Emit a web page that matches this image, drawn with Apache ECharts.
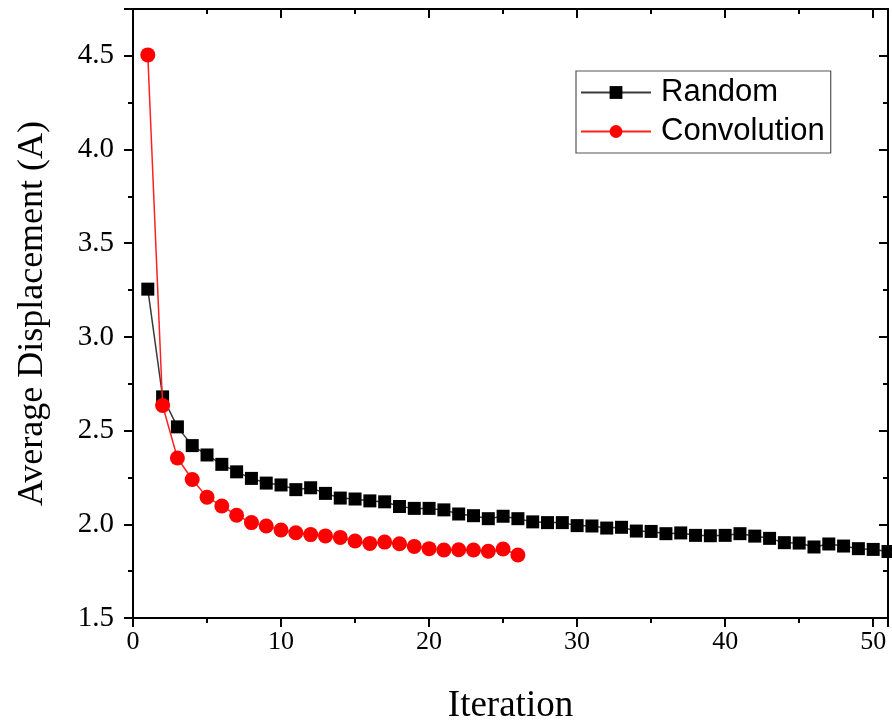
<!DOCTYPE html>
<html style="height: 100%">
<head>
    <meta charset="UTF-8" />
    <title>Average Displacement</title>
    <script src="https://cdn.jsdelivr.net/npm/echarts@6.0.0/dist/echarts.min.js"></script>
</head>
<body style="height: 100%; margin: 0; background: #fff">
    <div id="main" style="width: 892px; height: 727px"></div>
    <script type="text/javascript">
        // values
        var randomIter = [1, 2, 3, 4, 5, 6, 7, 8, 9, 10, 11, 12, 13, 14, 15, 16, 17,
            18, 19, 20, 21, 22, 23, 24, 25, 26, 27, 28, 29, 30, 31, 32, 33, 34,
            35, 36, 37, 38, 39, 40, 41, 42, 43, 44, 45, 46, 47, 48, 49, 50, 51];
        var randomDisp = [3.255, 2.68, 2.52, 2.42, 2.37, 2.32, 2.28, 2.245, 2.22, 2.21,
            2.185, 2.195, 2.165, 2.14, 2.135, 2.125, 2.12, 2.095, 2.085, 2.085,
            2.077, 2.055, 2.046, 2.03, 2.043, 2.03, 2.013, 2.009, 2.009, 1.993,
            1.991, 1.98, 1.984, 1.964, 1.962, 1.95, 1.954, 1.941, 1.939, 1.941,
            1.95, 1.937, 1.925, 1.902, 1.9, 1.879, 1.895, 1.884, 1.87, 1.866, 1.855];
        var convIter = [1, 2, 3, 4, 5, 6, 7, 8, 9, 10, 11, 12, 13, 14, 15, 16, 17,
            18, 19, 20, 21, 22, 23, 24, 25, 26];
        var convDisp = [4.505, 2.634, 2.354, 2.239, 2.145, 2.098, 2.048, 2.009, 1.991,
            1.97, 1.955, 1.945, 1.938, 1.93, 1.911, 1.898, 1.905, 1.896, 1.882,
            1.87, 1.863, 1.864, 1.863, 1.856, 1.868, 1.836];

        function pairs(xs, ys) {
            return xs.map(function (x, i) { return [x, ys[i]]; });
        }

        var chart = echarts.init(document.getElementById('main'));
        var serif = 'Liberation Serif';
        var axisLine = { show: true, onZero: false, lineStyle: { color: '#000', width: 2 } };
        var tick = { show: true, length: 9, lineStyle: { color: '#000', width: 2 } };
        var tickIn = { show: true, inside: true, length: 9, lineStyle: { color: '#000', width: 2 } };
        var minor = { show: true, splitNumber: 2, length: 5, lineStyle: { color: '#000', width: 2 } };

        var option = {
            animation: false,
            grid: { left: 133, right: 4, top: 9, bottom: 109, containLabel: false, outerBoundsMode: 'none' },
            legend: {
                orient: 'vertical',
                left: 576,
                top: 71,
                itemWidth: 70,
                itemHeight: 16,
                itemGap: 8,
                padding: [6, 6, 6, 4],
                borderColor: '#555',
                borderWidth: 1.2,
                textStyle: {
                    fontFamily: 'Liberation Sans', fontSize: 31, color: '#000',
                    lineHeight: 31, padding: [0, 0, 0, 5]
                },
                data: ['Random', 'Convolution']
            },
            xAxis: [{
                type: 'value',
                min: 0, max: 51, interval: 10,
                name: 'Iteration',
                nameLocation: 'middle',
                nameGap: 70,
                nameTextStyle: { fontFamily: serif, fontSize: 37, color: '#000' },
                axisLine: axisLine,
                axisTick: tick,
                minorTick: minor,
                axisLabel: { fontFamily: serif, fontSize: 26, color: '#000', margin: 11, showMaxLabel: false },
                splitLine: { show: false }
            }, {
                type: 'value',
                position: 'top',
                min: 0, max: 51, interval: 10,
                axisLine: axisLine,
                axisTick: tickIn,
                minorTick: minor,
                axisLabel: { show: false },
                splitLine: { show: false }
            }],
            yAxis: [{
                type: 'value',
                min: 1.5, max: 4.75, interval: 0.5,
                name: 'Average Displacement (A)',
                nameLocation: 'middle',
                nameGap: 82,
                nameTextStyle: { fontFamily: serif, fontSize: 36, color: '#000' },
                axisLine: axisLine,
                axisTick: tick,
                minorTick: minor,
                axisLabel: {
                    fontFamily: serif, fontSize: 29, color: '#000', margin: 19, showMaxLabel: false,
                    formatter: function (v) { return v.toFixed(1); }
                },
                splitLine: { show: false }
            }, {
                type: 'value',
                position: 'right',
                min: 1.5, max: 4.75, interval: 0.5,
                axisLine: axisLine,
                axisTick: tickIn,
                minorTick: minor,
                axisLabel: { show: false },
                splitLine: { show: false }
            }],
            series: [{
                name: 'Random',
                type: 'line',
                data: pairs(randomIter, randomDisp),
                symbol: 'rect',
                symbolSize: 13,
                itemStyle: { color: '#000' },
                lineStyle: { color: '#3a3a3a', width: 1.5 },
                z: 2
            }, {
                name: 'Convolution',
                type: 'line',
                data: pairs(convIter, convDisp),
                symbol: 'circle',
                symbolSize: 15,
                itemStyle: { color: '#ff0000' },
                lineStyle: { color: '#ff2020', width: 1.5 },
                z: 3
            }]
        };

        chart.setOption(option);
    </script>
</body>
</html>
